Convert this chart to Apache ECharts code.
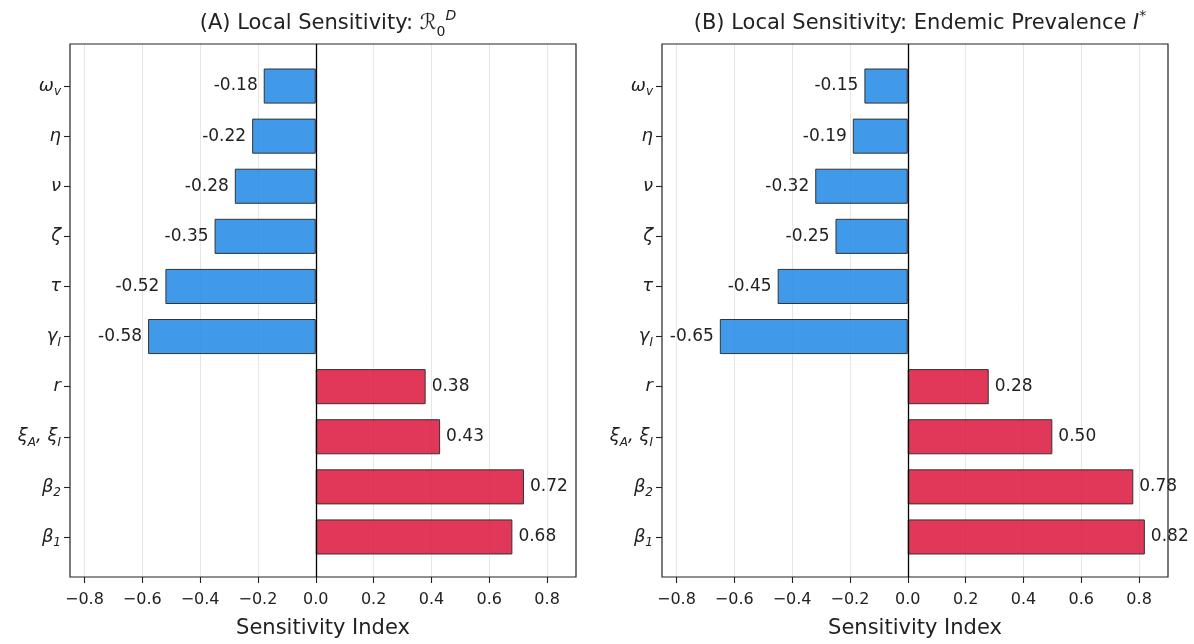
<!DOCTYPE html>
<html>
<head>
<meta charset="utf-8">
<script src="https://cdn.jsdelivr.net/npm/echarts@6/dist/echarts.min.js"></script>
<style>
html,body{margin:0;padding:0;background:#fff;}
#chart{width:1194px;height:644px;}
</style>
</head>
<body>
<div id="chart"></div>
<script>
// Parameters, top to bottom
const params = ['ω_v', 'η', 'ν', 'ζ', 'τ', 'γ_I', 'r', 'ξ_A, ξ_I', 'β_2', 'β_1'];
const sensR0 = [-0.18, -0.22, -0.28, -0.35, -0.52, -0.58, 0.38, 0.43, 0.72, 0.68];
const sensI = [-0.15, -0.19, -0.32, -0.25, -0.45, -0.65, 0.28, 0.50, 0.78, 0.82];
const xTicks = [-0.8, -0.6, -0.4, -0.2, 0.0, 0.2, 0.4, 0.6, 0.8];
const titleA = '(A) Local Sensitivity: ';
const titleB = '(B) Local Sensitivity: Endemic Prevalence ';
const xName = 'Sensitivity Index';

const FONT = 'DejaVu Sans';
const BLUE = 'rgba(30,136,229,0.85)';
const RED = 'rgba(220,20,60,0.85)';

function mathLabel(s) {
  let out = '';
  let buf = '';
  for (let i = 0; i < s.length; i++) {
    if (s[i] === '_' && i + 1 < s.length) {
      if (buf) { out += '{m|' + buf + '}'; buf = ''; }
      out += '{s|' + s[i + 1] + '}';
      i++;
    } else {
      buf += s[i];
    }
  }
  if (buf) out += '{m|' + buf + '}';
  return out;
}

const panels = [
  { frameLeft: 70, frameRight: 1194 - 576, data: sensR0 },
  { frameLeft: 662, frameRight: 1194 - 1168, data: sensI }
];

const grids = [], xAxes = [], yAxes = [], series = [];
const FRAME_TOP = 44, FRAME_BOTTOM = 644 - 579;
const BAR_TOP = 61, BAR_BOTTOM = 644 - 562;

panels.forEach((p, k) => {
  grids.push({ left: p.frameLeft, right: p.frameRight, top: FRAME_TOP, bottom: FRAME_BOTTOM,
    show: true, borderColor: '#222', borderWidth: 1.2, backgroundColor: 'transparent', z: 3 });
  grids.push({ left: p.frameLeft, right: p.frameRight, top: BAR_TOP, bottom: BAR_BOTTOM });
  const gf = 2 * k, gb = 2 * k + 1;
  xAxes.push({
    gridIndex: gf, type: 'value', min: -0.85, max: 0.9, interval: 0.2,
    axisLine: { show: false, onZero: false },
    axisTick: { show: true, length: 6, lineStyle: { color: '#222', width: 1.1 },
      customValues: xTicks },
    axisLabel: { fontFamily: FONT, fontSize: 16, color: '#222', margin: 15,
      customValues: xTicks,
      formatter: v => (v < 0 ? '\u2212' : '') + Math.abs(v).toFixed(1) },
    splitLine: { show: true, lineStyle: { color: '#e6e6e6', width: 1 } },
    name: xName, nameLocation: 'middle', nameGap: 41,
    nameTextStyle: { fontFamily: FONT, fontSize: 21, color: '#222' }
  });
  yAxes.push({ gridIndex: gf, type: 'value', min: 0, max: 1, show: false });
  xAxes.push({ gridIndex: gb, type: 'value', min: -0.85, max: 0.9, show: false });
  yAxes.push({
    gridIndex: gb, type: 'category', data: params, inverse: true,
    axisLine: { show: false, onZero: false },
    axisTick: { show: true, alignWithLabel: true, length: 6, lineStyle: { color: '#222', width: 1.1 } },
    axisLabel: {
      margin: 9, formatter: v => mathLabel(v),
      rich: {
        m: { fontFamily: FONT, fontStyle: 'italic', fontSize: 18, color: '#222', lineHeight: 24 },
        s: { fontFamily: FONT, fontStyle: 'italic', fontSize: 12, color: '#222', lineHeight: 24, verticalAlign: 'bottom', padding: [7, 0, 0, 0] }
      }
    },
    splitLine: { show: false }
  });
  series.push({
    type: 'bar', xAxisIndex: 2 * k + 1, yAxisIndex: 2 * k + 1,
    data: p.data.map(v => ({ value: v, label: { position: v < 0 ? 'left' : 'right' } })),
    barWidth: '70%',
    itemStyle: { color: d => (d.value < 0 ? BLUE : RED), borderColor: '#333', borderWidth: 1 },
    label: {
      show: true, fontFamily: FONT, fontSize: 17, color: '#222', distance: 6,
      formatter: d => d.value.toFixed(2)
    },
    z: 2
  });
  series.push({
    type: 'line', xAxisIndex: 2 * k, yAxisIndex: 2 * k, data: [],
    markLine: { silent: true, symbol: ['none', 'none'], label: { show: false },
      lineStyle: { color: '#000', width: 1.3, type: 'solid' }, data: [{ xAxis: 0 }] },
    z: 5
  });
});

const chart = echarts.init(document.getElementById('chart'), null, { renderer: 'canvas' });
chart.setOption({
  backgroundColor: '#fff',
  animation: false,
  title: [
    { text: titleA + '{R|ℛ}{sub|0}{sup|D}', left: 323, top: 4, textAlign: 'center',
      textStyle: { fontFamily: FONT, fontSize: 21, fontWeight: 'normal', color: '#222',
        rich: { R: { fontFamily: FONT, fontStyle: 'italic', fontSize: 21, color: '#222', lineHeight: 30 },
          sub: { fontFamily: FONT, fontSize: 14, color: '#222', lineHeight: 30, verticalAlign: 'bottom', padding: [9, 0, 0, 0] },
          sup: { fontFamily: FONT, fontStyle: 'italic', fontSize: 14, color: '#222', lineHeight: 30, verticalAlign: 'top', padding: [0, 0, 10, 0] } } } },
    { text: titleB + '{I|I}{sup|*}', left: 915, top: 4, textAlign: 'center',
      textStyle: { fontFamily: FONT, fontSize: 21, fontWeight: 'normal', color: '#222',
        rich: { I: { fontFamily: FONT, fontStyle: 'italic', fontSize: 21, color: '#222', lineHeight: 30 },
          sup: { fontFamily: FONT, fontSize: 14, color: '#222', lineHeight: 30, verticalAlign: 'top', padding: [0, 0, 10, 0] } } } }
  ],
  grid: grids,
  xAxis: xAxes,
  yAxis: yAxes,
  series: series
});
</script>
</body>
</html>
